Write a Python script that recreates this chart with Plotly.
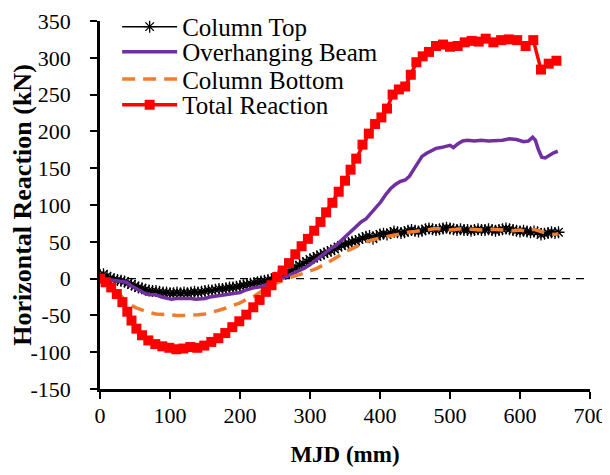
import plotly.graph_objects as go

# ---------------- data ----------------
top_x = [0, 5, 10, 15, 20, 25, 30, 35, 40, 45, 50, 55, 60, 65, 70, 75, 80, 85, 90, 95,
         100, 105, 110, 115, 120, 125, 130, 135, 140, 145, 150, 155, 160, 165, 170, 175,
         180, 185, 190, 195, 200, 205, 210, 215, 220, 225, 230, 235, 240, 245, 250, 255,
         260, 265, 270, 275, 280, 285, 290, 295, 300, 305, 310, 315, 320, 325, 330, 335,
         340, 345, 350, 355, 360, 365, 370, 375, 380, 385, 390, 395, 400, 405, 410, 415,
         420, 425, 430, 435, 440, 445, 450, 455, 460, 465, 470, 475, 480, 485, 490, 495,
         500, 505, 510, 515, 520, 525, 530, 535, 540, 545, 550, 555, 560, 565, 570, 575,
         580, 585, 590, 595, 600, 605, 610, 615, 620, 625, 630, 635, 640, 645, 650, 655]
top_y = [5, 6, 3, 1, -1, -2, -3, -4, -6, -8, -10, -12, -13, -15, -16, -17, -17, -18, -19, -19,
         -20, -20, -19, -20, -19, -20, -19, -18, -19, -18, -17, -16, -16, -15, -14, -14,
         -13, -12, -12, -11, -10, -9, -8, -7, -6, -5, -4, -3, -2, -1, 1, 3,
         5, 7, 9, 12, 16, 18, 21, 23, 26, 28, 30, 32, 34, 36, 38, 40,
         43, 45, 47, 48, 50, 51, 53, 55, 57, 58, 54, 58, 60, 61, 60, 62,
         64, 63, 62, 63, 65, 66, 65, 64, 65, 67, 68, 67, 66, 67, 68, 69,
         68, 67, 66, 67, 66, 66, 65, 66, 67, 66, 66, 67, 66, 65, 66, 67,
         68, 67, 66, 65, 64, 65, 64, 63, 64, 63, 60, 61, 62, 63, 62, 63]

beam_x = [0, 10, 20, 30, 38, 45, 52, 60, 66, 73, 80, 88, 95, 102, 109, 116, 123, 130, 137,
          144, 150, 157, 164, 171, 178, 186, 193, 200, 207, 214, 222, 229, 236, 243, 250,
          257, 264, 271, 278, 285, 292, 300, 308, 316, 322, 330, 337, 345, 352, 359, 366,
          373, 380, 387, 394, 401, 408, 415, 422, 429, 436, 442, 448, 454, 460, 466, 473,
          480, 487, 494, 500, 505, 511, 518, 525, 535, 545, 555, 565, 575, 585, 595, 605,
          612, 618, 622, 626, 631, 636, 642, 648, 654]
beam_y = [0, -1, -2, -3, -5, -10, -14, -18, -21, -22, -22, -25, -27, -28, -27, -27, -26, -27, -28,
          -28, -27, -25, -24, -23, -22, -22, -21, -19, -16, -14, -12, -11, -9, -7, -5,
          -1, 2, 6, 9, 12, 14, 19, 25, 31, 36, 41, 45, 52, 59, 65, 71,
          77, 81, 89, 96, 104, 114, 122, 128, 132, 134, 139, 148, 158, 166, 170, 174,
          177, 178, 180, 181, 178, 183, 187, 188, 187, 188, 187, 187, 188, 190, 189, 186,
          187, 192, 188, 176, 165, 164, 168, 171, 173]

bot_x = [0, 10, 20, 30, 40, 50, 60, 70, 80, 90, 100, 110, 120, 130, 140, 150, 160, 170, 180,
         190, 200, 210, 220, 230, 240, 250, 260, 270, 280, 290, 300, 310, 320, 330, 340, 350,
         360, 370, 380, 390, 400, 410, 420, 430, 440, 450, 460, 470, 480, 490, 500, 510, 520,
         530, 540, 550, 560, 570, 580, 590, 600, 610, 620, 630, 640, 650, 655]
bot_y = [0, -5, -14, -24, -33, -39, -43, -46, -48, -49, -50, -50, -50, -50, -49, -48, -46, -43, -40,
         -37, -33, -28, -24, -18, -12, -7, -3, 1, 4, 7, 10, 14, 19, 24, 30, 36,
         41, 46, 50, 53, 55, 57, 60, 61, 63, 64, 65, 66, 68, 67, 66, 67, 68,
         67, 66, 66, 67, 67, 66, 65, 66, 64, 67, 64, 61, 60, 61]

tot_x = [0, 8, 16, 24, 32, 39, 45, 52, 60, 69, 79, 89, 99, 109, 119, 129, 139, 149, 159, 169,
         179, 189, 199, 209, 219, 228, 237, 245, 253, 261, 270, 279, 288, 297, 306, 315, 323,
         332, 341, 350, 358, 366, 375, 384, 393, 402, 410, 418, 427, 436, 444, 452, 461, 470,
         480, 490, 500, 511, 521, 531, 541, 551, 562, 573, 584, 596, 608, 619, 630, 641, 652]
tot_y = [0, -5, -12, -21, -32, -45, -57, -68, -77, -84, -89, -92, -94, -96, -95, -93, -94, -91, -86, -81,
         -74, -66, -58, -49, -39, -29, -18, -9, 2, 11, 21, 33, 44, 54, 65, 77, 90,
         103, 118, 133, 148, 163, 182, 197, 210, 219, 231, 250, 257, 261, 277, 294, 302, 308,
         316, 318, 315, 316, 321, 323, 322, 326, 321, 324, 325, 324, 316, 324, 284, 292, 296]

names = ["Column Top", "Overhanging Beam", "Column Bottom", "Total Reaction"]
x_ticks = [0, 100, 200, 300, 400, 500, 600, 700]
y_ticks = [-150, -100, -50, 0, 50, 100, 150, 200, 250, 300, 350]

FONT = "Liberation Serif"
TICK_FS = 22
LEG_FS = 25

fig = go.Figure()
fig.add_trace(go.Scatter(x=top_x, y=top_y, name=names[0], mode="lines+markers",
                         line=dict(color="black", width=1.5),
                         marker=dict(symbol="asterisk-open", size=10, color="black",
                                     line=dict(color="black", width=1.3)),
                         legend="legend"))
fig.add_trace(go.Scatter(x=beam_x, y=beam_y, name=names[1], mode="lines",
                         line=dict(color="#7030A0", width=3.5), legend="legend2"))
fig.add_trace(go.Scatter(x=bot_x, y=bot_y, name=names[2], mode="lines",
                         line=dict(color="#ED7D31", width=3.5, dash="13px,8px"), legend="legend3"))
fig.add_trace(go.Scatter(x=tot_x, y=tot_y, name=names[3], mode="lines+markers",
                         line=dict(color="#FF0000", width=3.5),
                         marker=dict(symbol="square", size=10, color="#FF0000"),
                         legend="legend4"))

fig.add_shape(type="line", xref="x", yref="y", x0=0, x1=700, y0=0, y1=0,
              line=dict(color="black", width=1.3, dash="8px,6px"), layer="below")

leg_common = dict(x=0.035, xanchor="left", yanchor="middle", bgcolor="rgba(0,0,0,0)",
                  borderwidth=0, font=dict(family=FONT, size=LEG_FS, color="black"),
                  itemwidth=55, tracegroupgap=0, visible=True)
leg_y = [0.984, 0.916, 0.842, 0.772]

fig.update_layout(
    width=602, height=467,
    showlegend=True,
    margin=dict(l=92, r=20, t=13, b=86, autoexpand=False),
    paper_bgcolor="white", plot_bgcolor="white",
    font=dict(family=FONT, size=TICK_FS, color="black"),
    legend=dict(y=leg_y[0], **leg_common),
    legend2=dict(y=leg_y[1], **leg_common),
    legend3=dict(y=leg_y[2], **leg_common),
    legend4=dict(y=leg_y[3], **leg_common),
    xaxis=dict(range=[0, 700], tickvals=x_ticks, ticktext=[str(v) for v in x_ticks],
               automargin=False, ticklabeloverflow="allow",
               showgrid=False, zeroline=False, showline=True, linecolor="black", linewidth=2.5,
               ticks="outside", ticklen=7, tickwidth=2, tickcolor="black",
               ticklabelstandoff=-2,
               tickfont=dict(family=FONT, size=TICK_FS),
               title=dict(text="MJD (mm)", font=dict(family=FONT, size=23, weight="bold"),
                          standoff=19)),
    yaxis=dict(range=[-150, 350], tickvals=y_ticks, ticktext=[str(v) for v in y_ticks],
               automargin=False, ticklabeloverflow="allow",
               showgrid=False, zeroline=False, showline=True, linecolor="black", linewidth=2.5,
               ticks="outside", ticklen=7, tickwidth=2, tickcolor="black",
               ticklabelstandoff=15,
               tickfont=dict(family=FONT, size=TICK_FS),
               title=dict(text="Horizontal Reaction (kN)",
                          font=dict(family=FONT, size=26, weight="bold"), standoff=10)),
)

fig.write_html("out.html")
